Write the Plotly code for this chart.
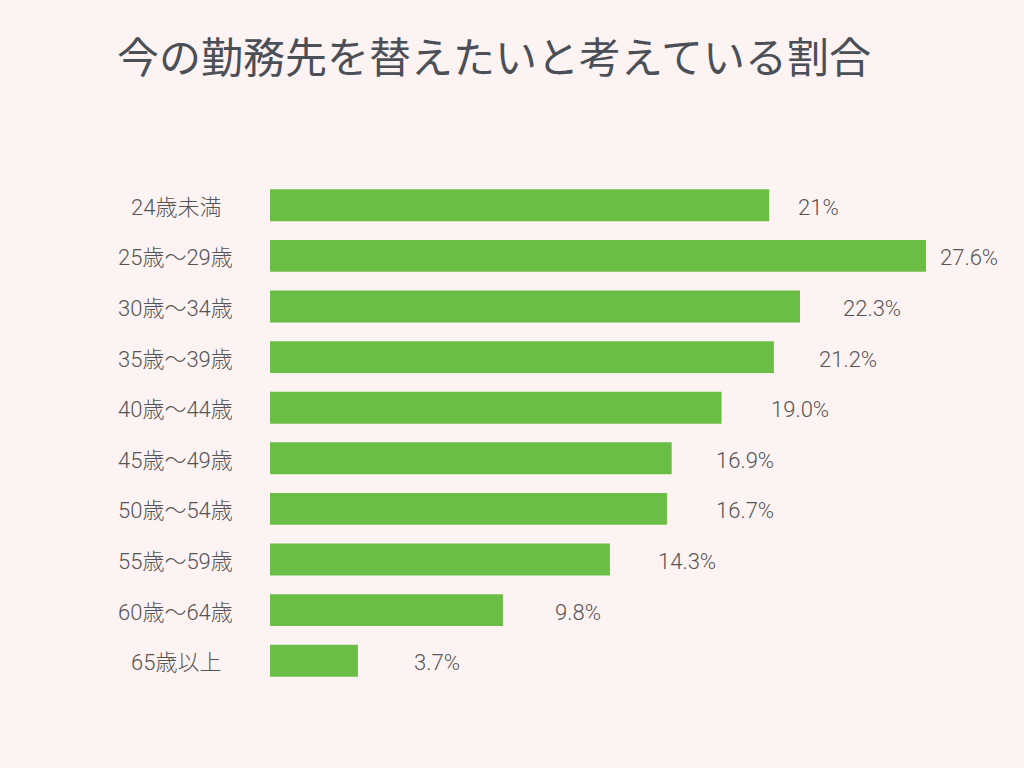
import plotly.graph_objects as go

categories = ["24歳未満", "25歳〜29歳", "30歳〜34歳", "35歳〜39歳", "40歳〜44歳",
              "45歳〜49歳", "50歳〜54歳", "55歳〜59歳", "60歳〜64歳", "65歳以上"]
values = [21, 27.6, 22.3, 21.2, 19.0, 16.9, 16.7, 14.3, 9.8, 3.7]
value_labels = ["21%", "27.6%", "22.3%", "21.2%", "19.0%", "16.9%", "16.7%", "14.3%", "9.8%", "3.7%"]
title_text = "今の勤務先を替えたいと考えている割合"

# style: horizontal offset (px) of each value label centre from its bar end
label_shift = [49, 43, 72, 74, 78, 73, 78, 77, 75, 79]

BG = "#fdf3f3"
GREEN = "#6abd45"
TXT = "#555555"
FONT = "Roboto, 'Noto Sans CJK JP', sans-serif"

fig = go.Figure(go.Bar(
    x=values, y=categories, orientation="h",
    marker=dict(color=GREEN, line=dict(width=0)),
    hoverinfo="skip",
))

annotations = []
for cat, v, lab, sh in zip(categories, values, value_labels, label_shift):
    annotations.append(dict(x=v, y=cat, xref="x", yref="y", text=lab, showarrow=False,
                            xanchor="center", yanchor="middle", xshift=sh, yshift=-2,
                            font=dict(family=FONT, size=22, color=TXT, weight=300)))
    annotations.append(dict(x=-0.1433, y=cat, xref="paper", yref="y", text=cat, showarrow=False,
                            xanchor="center", yanchor="middle", yshift=-2,
                            font=dict(family=FONT, size=22, color=TXT, weight=300)))

fig.update_layout(
    width=1024, height=768,
    paper_bgcolor=BG, plot_bgcolor=BG,
    margin=dict(l=270, r=98, t=180, b=82),
    bargap=0.37,
    showlegend=False,
    title=dict(text=title_text, x=117 / 1024, xanchor="left", y=1 - 58 / 768, yanchor="middle",
               font=dict(family="'Noto Sans CJK JP', sans-serif", size=42, color="#4a4f58", weight=400)),
    xaxis=dict(range=[0, 27.6], visible=False, fixedrange=True),
    yaxis=dict(autorange="reversed", showticklabels=False, showgrid=False, zeroline=False,
               showline=False, ticks="", fixedrange=True),
    annotations=annotations,
)

fig.write_html("out.html", config={"displayModeBar": False})
with open("out.html", encoding="utf-8") as f:
    html = f.read()
html = html.replace("<body>", "<body style=\"margin:0;background:%s\">" % BG, 1)
with open("out.html", "w", encoding="utf-8") as f:
    f.write(html)
